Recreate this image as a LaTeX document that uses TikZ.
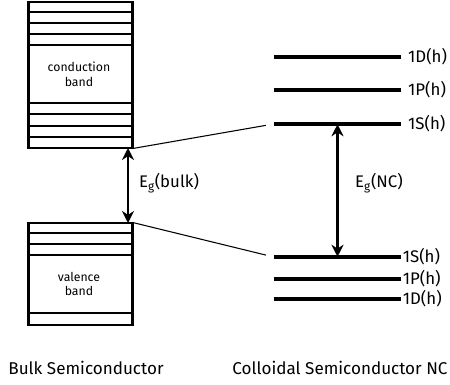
\documentclass[tikz,border=0pt]{standalone}
\usepackage{fontspec}
\setmainfont{Fira Sans}
\usetikzlibrary{arrows.meta,positioning}

\begin{document}
\begin{tikzpicture}[
    x=0.75pt,
    y=-0.75pt,
    >={Stealth[length=9pt,width=9pt]},
    bande/.style={
        draw,
        line width=0.8pt,
        minimum width=76.9pt,
        inner sep=0pt
    },
    cote/.style={
        line width=2.2pt
    },
    raie/.style={
        line width=1pt
    },
    niveau/.style={
        minimum width=95.25pt,
        minimum height=0pt,
        inner sep=0pt
    },
    trait/.style={
        line width=2.4pt
    },
    fleche/.style={
        <->,
        line width=1.6pt
    },
    lien/.style={
        line width=0.8pt,
        shorten >=6pt
    },
    etiquette/.style={
        font=\fontsize{12.6}{14}\selectfont,
        inner sep=1pt
    },
    gap/.style={
        font=\fontsize{12.6}{14}\selectfont
    },
    petit/.style={
        font=\fontsize{9.2}{11}\selectfont,
        align=center
    },
    titre/.style={
        font=\fontsize{12.8}{15}\selectfont
    }
]
\useasboundingbox (0,0) rectangle (450,385);

% Bulk bands
\node[bande, minimum height=109.5pt] (cb) at (80.75,75) {};
\node[bande, minimum height=76.5pt] (vb) at (80.75,274) {};

\foreach \y in {12,23,34,45,103,114,126,137}
    \draw[raie] (29.5,\y) -- (132,\y);
\foreach \y in {233,244,255,313}
    \draw[raie] (29.5,\y) -- (132,\y);

\draw[cote] (cb.north west) -- (cb.south west);
\draw[cote] (cb.north east) -- (cb.south east);
\draw[cote] (vb.north west) -- (vb.south west);
\draw[cote] (vb.north east) -- (vb.south east);

\node[petit] (cbtxt) at (79,74) {conduction\\band};
\node[petit] (vbtxt) at (79,284) {valence\\band};

% Bulk gap
\coordinate (cbas) at (128,148);
\coordinate (vhaut) at (128,223);
\draw[fleche] (cbas) -- (vhaut);
\node[gap] (egb) at (169,183) {E\textsubscript{g}(bulk)};

% NC levels
\node[niveau] (e1D) at (337.5,57) {};
\node[niveau] (e1P) at (337.5,90) {};
\node[niveau] (e1S) at (337.5,124) {};
\node[niveau] (h1S) at (337.5,257) {};
\node[niveau] (h1P) at (337.5,279) {};
\node[niveau] (h1D) at (337.5,299) {};

\foreach \n in {e1D,e1P,e1S,h1S,h1P,h1D}
    \draw[trait] (\n.west) -- (\n.east);

\node[etiquette, right=4pt of e1D] {1D(h)};
\node[etiquette, right=4pt of e1P] {1P(h)};
\node[etiquette, right=4pt of e1S] {1S(h)};
\node[etiquette, right=0pt of h1S] {1S(h)};
\node[etiquette, right=0pt of h1P] {1P(h)};
\node[etiquette, right=0pt of h1D] {1D(h)};

% NC gap
\draw[fleche] (e1S) -- (h1S);
\node[gap] (egnc) at (379,183) {E\textsubscript{g}(NC)};

% Links bulk to NC
\draw[lien] (cb.south east) -- (e1S.west);
\draw[lien] (vb.north east) -- (h1S.west);

% Titles
\node[titre] (tbulk) at (86,368) {Bulk Semiconductor};
\node[titre] (tnc) at (340,368) {Colloidal Semiconductor NC};

\end{tikzpicture}
\end{document}
